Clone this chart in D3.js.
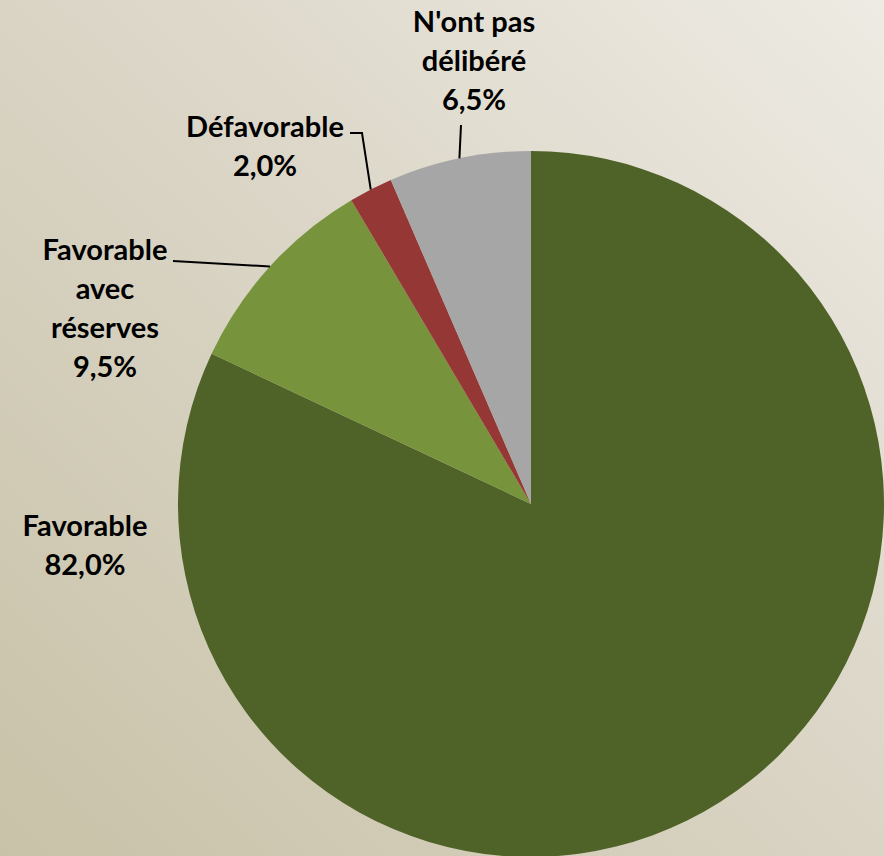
<!DOCTYPE html>
<html>
<head>
<meta charset="utf-8">
<script src="https://cdn.jsdelivr.net/npm/d3@7"></script>
<style>
  html, body { margin: 0; padding: 0; overflow: hidden; }
  svg { display: block; }
  .lbl { font-family: Lato, "Open Sans", sans-serif; font-weight: bold; font-size: 29px; fill: #000; }
</style>
</head>
<body>
<svg id="chart"></svg>
<script>
const width = 884;
const height = 856;

// data
const categories = ["Favorable", "Favorable avec réserves", "Défavorable", "N'ont pas délibéré"];
const values = [82.0, 9.5, 2.0, 6.5];
const labelLines = [
  ["Favorable", "82,0%"],
  ["Favorable", "avec", "réserves", "9,5%"],
  ["Défavorable", "2,0%"],
  ["N'ont pas", "délibéré", "6,5%"]
];
const colors = ["#4f6228", "#77933c", "#953735", "#a6a6a6"];

const cx = 531;
const cy = 504;
const radius = 353;

const svg = d3.select("#chart").attr("width", width).attr("height", height);

// background gradient
const defs = svg.append("defs");
const grad = defs
  .append("linearGradient")
  .attr("id", "bg")
  .attr("x1", "0%")
  .attr("y1", "100%")
  .attr("x2", "100%")
  .attr("y2", "0%");
grad.append("stop").attr("offset", "0%").attr("stop-color", "#c8c2a8");
grad.append("stop").attr("offset", "55%").attr("stop-color", "#dbd6c7");
grad.append("stop").attr("offset", "100%").attr("stop-color", "#eeebe4");

svg.append("rect").attr("width", width).attr("height", height).attr("fill", "url(#bg)");

const pie = d3.pie().sort(null).value((d) => d);
const arcs = pie(values);
const arc = d3.arc().innerRadius(0).outerRadius(radius);

const g = svg.append("g").attr("transform", "translate(" + cx + "," + cy + ")");

g.selectAll("path")
  .data(arcs)
  .enter()
  .append("path")
  .attr("d", arc)
  .attr("fill", (d, i) => colors[i]);

// point on the rim at the middle of a slice
function rimPoint(d) {
  const a = (d.startAngle + d.endAngle) / 2;
  return [cx + radius * Math.sin(a), cy - radius * Math.cos(a)];
}

// label placement (centre x, first baseline) and leader anchor
const labelPos = [
  { x: 85, y: 536, lead: null },
  { x: 105, y: 260, lead: [[173, 261]] },
  { x: 265, y: 137, lead: [[350, 133], [362, 133]] },
  { x: 474, y: 32, lead: [[461, 125]] }
];
const lineGap = 39;

arcs.forEach((d, i) => {
  const p = labelPos[i];
  const t = svg.append("text").attr("class", "lbl").attr("text-anchor", "middle");
  labelLines[i].forEach((line, j) => {
    t.append("tspan").attr("x", p.x).attr("y", p.y + j * lineGap).text(line);
  });
  if (p.lead) {
    const pts = p.lead.concat([rimPoint(d)]);
    svg.append("path")
      .attr("d", d3.line()(pts))
      .attr("fill", "none")
      .attr("stroke", "#000")
      .attr("stroke-width", 2);
  }
});
</script>
</body>
</html>
